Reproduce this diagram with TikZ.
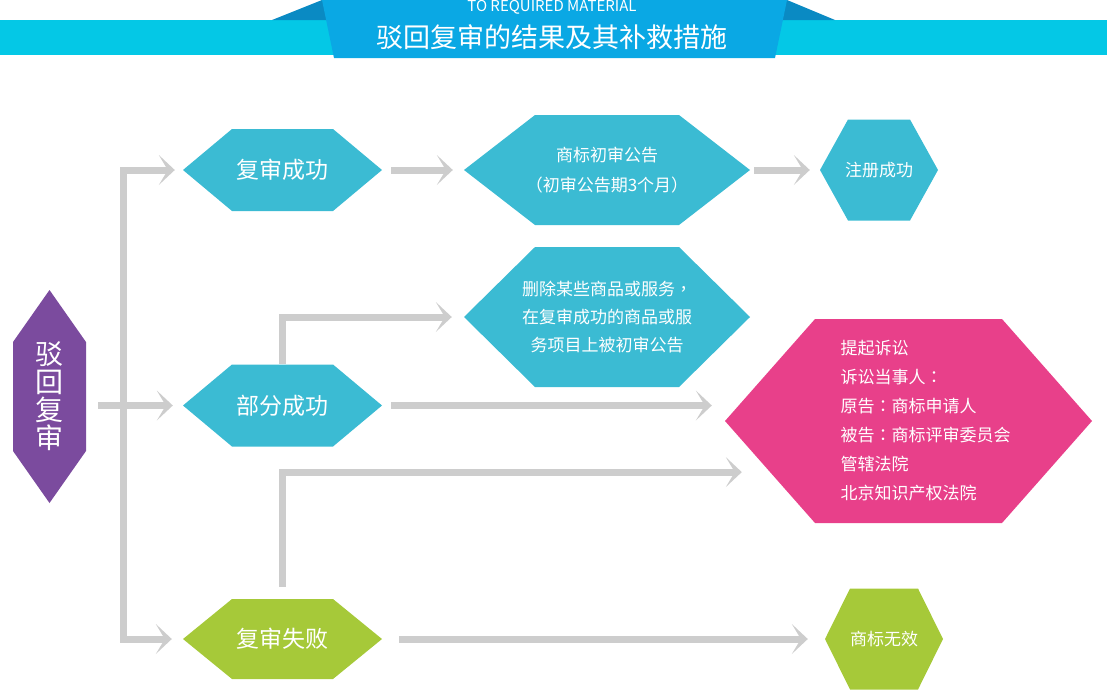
\documentclass[tikz,border=0pt]{standalone}
\usepackage{fontspec}
\newfontfamily\cjk{Noto Sans CJK SC}
\newfontfamily\cjktc{Noto Sans CJK TC}
\newcommand{\mycolon}{{\cjktc ：}}
\newcommand{\mycomma}{{\cjktc ，}}
\usetikzlibrary{arrows.meta,calc}
\definecolor{cTeal}{RGB}{59,187,211}
\definecolor{cPink}{RGB}{232,64,138}
\definecolor{cGreen}{RGB}{166,201,57}
\definecolor{cPurple}{RGB}{123,75,158}
\definecolor{cGray}{RGB}{205,205,205}
\definecolor{cStrip}{RGB}{4,200,230}
\definecolor{cPanel}{RGB}{10,168,228}
\definecolor{cFold}{RGB}{10,138,195}
\tikzset{
  hexh/.style args={#1/#2/#3/#4}{minimum width=#1, minimum height=#2, inner sep=0pt,
    text=white, align=center,
    path picture={\fill[#4] (path picture bounding box.west)
      -- ([xshift=#3]path picture bounding box.north west)
      -- ([xshift=-#3]path picture bounding box.north east)
      -- (path picture bounding box.east)
      -- ([xshift=-#3]path picture bounding box.south east)
      -- ([xshift=#3]path picture bounding box.south west) -- cycle;}},
  hexv/.style args={#1/#2/#3/#4}{minimum width=#1, minimum height=#2, inner sep=0pt,
    text=white, align=center,
    path picture={\fill[#4] (path picture bounding box.north)
      -- ([yshift=-#3]path picture bounding box.north east)
      -- ([yshift=#3]path picture bounding box.south east)
      -- (path picture bounding box.south)
      -- ([yshift=#3]path picture bounding box.south west)
      -- ([yshift=-#3]path picture bounding box.north west) -- cycle;}},
  conn/.style={draw=cGray, line width=7pt,
    -{Stealth[length=16pt,width=30pt,inset=9pt,line width=0pt]}},
  big/.style={font=\cjk\fontsize{23}{28}\selectfont},
  small/.style={font=\cjk\fontsize{17}{30}\selectfont},
}
\begin{document}
\begin{tikzpicture}[x=1pt,y=-1pt]
\useasboundingbox (0,0) rectangle (1107,694);
% banner
\fill[cStrip] (0,20) rectangle (1107,55);
\fill[cFold] (272,20) -- (322,0) -- (345,0) -- (345,20) -- cycle;
\fill[cFold] (835,20) -- (787,0) -- (765,0) -- (765,20) -- cycle;
\fill[cPanel] (322,0) -- (787,0) -- (775,58) -- (334,58) -- cycle;
\node[font=\cjk\fontsize{15}{15}\selectfont, text=white, anchor=base, inner sep=0pt] (sub) at (552,11.5) {TO REQUIRED MATERIAL};
\node[font=\cjk\fontsize{27}{30}\selectfont, text=white, inner sep=0pt] (title) at (552,37) {驳回复审的结果及其补救措施};
% nodes
\node[hexv={73pt/213pt/52pt/cPurple}, font=\cjk\fontsize{28}{28}\selectfont] (bh) at (49.5,396.5) {驳\\回\\复\\审};
\node[hexh={199pt/82pt/49pt/cTeal}, big] (fs) at (282.5,170) {复审成功};
\node[hexh={286pt/110pt/71pt/cTeal}, small] (pub) at (607,170) {商标初审公告\\（初审公告期3个月）};
\node[hexh={118pt/101pt/28pt/cTeal}, small] (reg) at (879,170) {注册成功};
\node[hexh={286pt/140pt/71pt/cTeal}, font=\cjk\fontsize{17}{28}\selectfont] (del) at (607,317) {删除某些商品或服务\mycomma\\在复审成功的商品或服\\务项目上被初审公告};
\node[hexh={199pt/82pt/49pt/cTeal}, big] (pc) at (282.5,405.5) {部分成功};
\node[hexh={367pt/204pt/90pt/cPink}, font=\cjk\fontsize{17}{29}\selectfont] (lit) at (908.5,421)
  {\hspace*{34pt}\begin{tabular}{@{}l@{}}提起诉讼\\诉讼当事人\mycolon\\原告\mycolon 商标申请人\\被告\mycolon 商标评审委员会\\管辖法院\\北京知识产权法院\end{tabular}};
\node[hexh={199pt/80pt/49pt/cGreen}, big] (fb) at (282.5,639) {复审失败};
\node[hexh={118pt/101pt/25pt/cGreen}, small] (inv) at (884,639) {商标无效};
% connectors
\coordinate (trunk) at (123.5,405);
\draw[conn, shorten >=8pt] (trunk |- fb.west) -- (trunk |- fs.west) -- (fs.west);
\draw[conn, shorten >=11pt] (trunk |- fs.west) -- (trunk |- fb.west) -- (fb.west);
\draw[conn, shorten <=12pt, shorten >=10pt] (bh.east |- pc.west) -- (pc.west);
\draw[conn, shorten <=9pt, shorten >=11pt] (fs.east) -- (pub.west);
\draw[conn, shorten <=4pt, shorten >=10pt] (pub.east) -- (reg.west);
\draw[conn, shorten >=12pt] (pc.north) |- (del.west);
\draw[conn, shorten <=9pt, shorten >=13pt] (pc.east) -- (pc.east -| lit.west);
\coordinate (litB) at ($(lit.west)!0.5!(lit.south west)+(44,0)$);
\draw[conn, shorten <=12pt, shorten >=27pt] (fb.north) |- (litB);
\draw[conn, shorten <=17pt, shorten >=17pt] (fb.east) -- (inv.west);
\end{tikzpicture}
\end{document}
